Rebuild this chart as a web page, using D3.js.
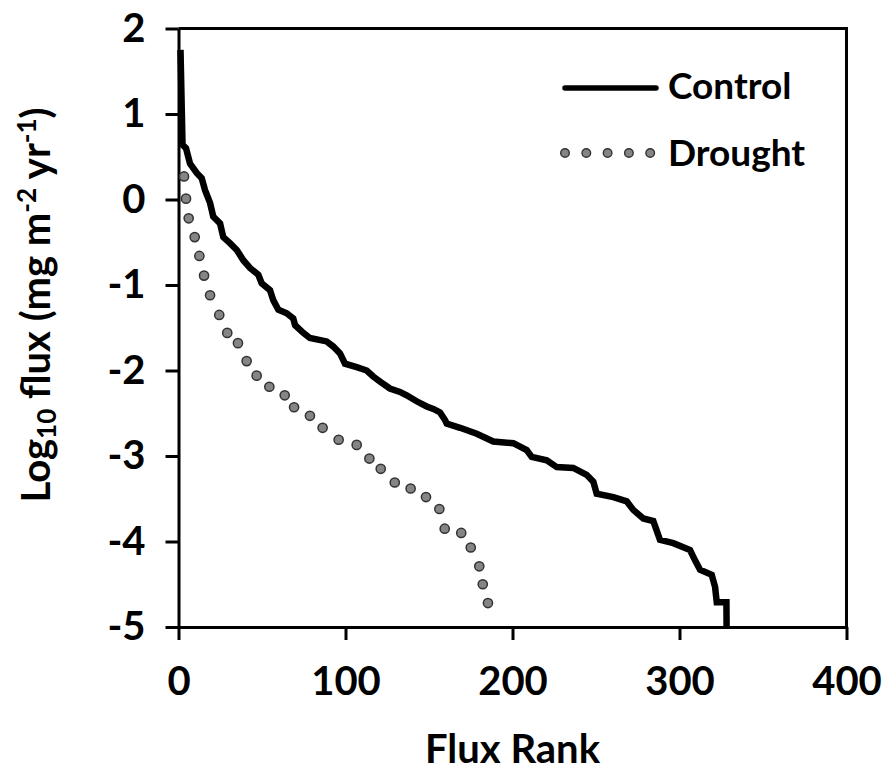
<!DOCTYPE html>
<html>
<head>
<meta charset="utf-8">
<script src="https://cdn.jsdelivr.net/npm/d3@7"></script>
<style>
  html, body { margin: 0; padding: 0; background: #fff; }
  svg { display: block; }
  text { font-family: Lato, "Open Sans", sans-serif; font-weight: 700; fill: #000; }
</style>
</head>
<body>
<svg id="chart" width="882" height="774"></svg>
<script>
// ---- Data ----
const seriesNames = ["Control", "Drought"];
const xTicks = [0, 100, 200, 300, 400];
const yTicks = [2, 1, 0, -1, -2, -3, -4, -5];

// Control: flux rank vs log10 flux (step-like line)
const controlRank = [1.2, 1.8, 2.4, 4.5, 6.9, 10.9, 13.9, 15.9, 18.9, 20.8, 24.9, 26.8, 30.8, 34.9, 38.8, 42.8,
  47.8, 49.8, 54.8, 56.8, 59.8, 64.8, 68.7, 69.8, 74.7, 78.7, 88.7, 92.7, 96.7, 99.7, 106.7, 112.7,
  116.6, 120.7, 126.6, 132.6, 136.6, 142.6, 148.6, 152.6, 156.6, 159.6, 160.6, 168.6, 178.6, 188.5,
  200.5, 208.5, 211.5, 220.5, 226.5, 236.4, 244.4, 248.4, 250.4, 260.4, 268.4, 272.3, 278.3, 284.3,
  286.3, 288.3, 296.3, 306.3, 309.3, 312.3, 319.3, 321.3, 322.3, 328.1, 328.2];
const controlFlux = [1.75, 1.2, 0.64, 0.60, 0.42, 0.31, 0.25, 0.11, -0.04, -0.20, -0.28, -0.44, -0.51, -0.59, -0.71, -0.80,
  -0.88, -0.98, -1.06, -1.18, -1.29, -1.33, -1.39, -1.47, -1.56, -1.62, -1.66, -1.72, -1.80, -1.92, -1.96, -2.00,
  -2.07, -2.13, -2.21, -2.25, -2.29, -2.36, -2.42, -2.45, -2.49, -2.58, -2.62, -2.67, -2.74, -2.83,
  -2.85, -2.93, -3.01, -3.05, -3.13, -3.14, -3.22, -3.30, -3.44, -3.48, -3.53, -3.63, -3.73, -3.76,
  -3.87, -3.98, -4.02, -4.10, -4.22, -4.33, -4.39, -4.53, -4.71, -4.71, -5.0];

// Drought: flux rank vs log10 flux (dotted series)
const droughtRank = [3.3, 4.5, 6.1, 9.7, 12.5, 15.3, 18.9, 24.4, 29.2, 35.6, 40.8, 46.8, 54.4, 63.6, 69.2,
  78.7, 86.3, 95.9, 106.7, 114.3, 121.1, 129.5, 139.0, 148.2, 156.2, 159.4, 169.3, 175.0, 180.1, 182.2, 185.3];
const droughtFlux = [0.27, 0.01, -0.22, -0.44, -0.66, -0.89, -1.12, -1.35, -1.56, -1.68, -1.89, -2.06, -2.19, -2.29, -2.43,
  -2.53, -2.67, -2.81, -2.87, -3.03, -3.15, -3.31, -3.38, -3.48, -3.62, -3.85, -3.90, -4.07, -4.29, -4.50, -4.72];

const control = controlRank.map((r, i) => ({ x: r, y: controlFlux[i] }));
const drought = droughtRank.map((r, i) => ({ x: r, y: droughtFlux[i] }));

// ---- Layout ----
const svg = d3.select("#chart");
const M = { left: 178.5, right: 846.5, top: 28.5, bottom: 627 };
const x = d3.scaleLinear().domain([0, 400]).range([M.left, M.right]);
const y = d3.scaleLinear().domain([-5, 2]).range([M.bottom, M.top]);

const FS = 40;

// Box (top and right borders)
svg.append("path")
  .attr("d", `M${M.left},${M.top}H${M.right}V${M.bottom}`)
  .attr("fill", "none").attr("stroke", "#000").attr("stroke-width", 3);

// Axes
const fmt = d => String(d);
const yAxis = svg.append("g").attr("transform", `translate(${M.left},0)`)
  .call(d3.axisLeft(y).tickValues(yTicks).tickFormat(fmt).tickSize(13).tickSizeOuter(0).tickPadding(20));
const xAxis = svg.append("g").attr("transform", `translate(0,${M.bottom})`)
  .call(d3.axisBottom(x).tickValues(xTicks).tickFormat(fmt).tickSize(13).tickSizeOuter(0).tickPadding(27));

[yAxis, xAxis].forEach(g => {
  g.select(".domain").attr("stroke", "#000").attr("stroke-width", 3);
  g.selectAll(".tick line").attr("stroke", "#000").attr("stroke-width", 3);
  g.selectAll(".tick text").attr("font-size", FS).attr("font-family", "Lato, sans-serif")
    .attr("font-weight", 700).attr("fill", "#000");
});

// Control line
const line = d3.line().x(d => x(d.x)).y(d => y(d.y));
svg.append("path").datum(control)
  .attr("d", line)
  .attr("fill", "none").attr("stroke", "#000").attr("stroke-width", 6.5)
  .attr("stroke-linejoin", "miter").attr("stroke-miterlimit", 2);

// Drought dots
svg.append("g").selectAll("circle").data(drought).join("circle")
  .attr("cx", d => x(d.x)).attr("cy", d => y(d.y)).attr("r", 4.6)
  .attr("fill", "#858585").attr("stroke", "#333", ).attr("stroke-width", 1.5);

// Legend
const lg = svg.append("g");
lg.append("line").attr("x1", 565).attr("x2", 656).attr("y1", 88).attr("y2", 88)
  .attr("stroke", "#000").attr("stroke-width", 5.5).attr("stroke-linecap", "round");
lg.append("text").attr("x", 668).attr("y", 99).attr("font-size", 37).text(seriesNames[0]);
lg.append("g").selectAll("circle").data(d3.range(5)).join("circle")
  .attr("cx", i => 565 + i * 21.3).attr("cy", 153).attr("r", 4.3)
  .attr("fill", "#858585").attr("stroke", "#333").attr("stroke-width", 1.4);
lg.append("text").attr("x", 668).attr("y", 166).attr("font-size", 37).text(seriesNames[1]);

// Axis titles
svg.append("text").attr("x", (M.left + M.right) / 2).attr("y", 763)
  .attr("text-anchor", "middle").attr("font-size", FS).text("Flux Rank");

const yt = svg.append("text")
  .attr("transform", "translate(50,305) rotate(-90)")
  .attr("text-anchor", "middle").attr("font-size", FS);
yt.append("tspan").text("Log");
yt.append("tspan").attr("font-size", FS * 0.65).attr("dy", 6).text("10");
yt.append("tspan").attr("dy", -6).text(" flux (mg m");
yt.append("tspan").attr("font-size", FS * 0.65).attr("dy", -14).text("-2");
yt.append("tspan").attr("dy", 14).text(" yr");
yt.append("tspan").attr("font-size", FS * 0.65).attr("dy", -14).text("-1");
yt.append("tspan").attr("dy", 14).text(")");
</script>
</body>
</html>
